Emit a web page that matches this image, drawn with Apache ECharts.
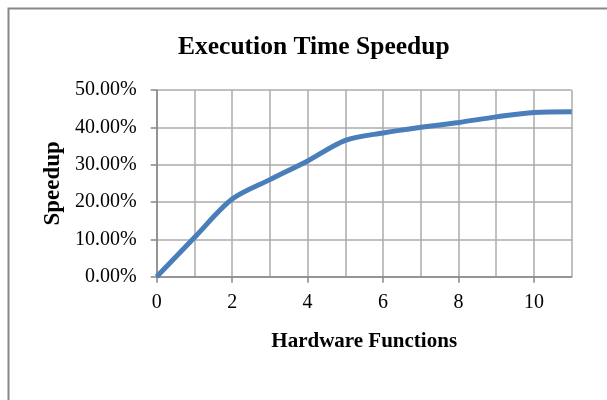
<!DOCTYPE html>
<html>
<head>
<meta charset="utf-8">
<script src="https://cdn.jsdelivr.net/npm/echarts@6/dist/echarts.min.js"></script>
<style>html,body{margin:0;padding:0;background:#fff}#c{width:607px;height:400px}</style>
</head>
<body>
<div id="c"></div>
<script>
const titleText = 'Execution Time Speedup';
const xName = 'Hardware Functions';
const yName = 'Speedup';
const xValues = [0, 1, 2, 3, 4, 5, 6, 7, 8, 9, 10, 11];
const speedup = [0, 0.105, 0.208, 0.26, 0.31, 0.365, 0.385, 0.40, 0.413, 0.428, 0.44, 0.442];
const xTickLabels = [0, 2, 4, 6, 8, 10];

const serif = '"Liberation Serif","Times New Roman",serif';
const chart = echarts.init(document.getElementById('c'), null, {renderer: 'canvas'});
chart.setOption({
  animation: false,
  backgroundColor: '#fff',
  graphic: [{
    type: 'rect', left: 6, top: 6, z: -1,
    shape: {x: 0, y: 0, width: 640, height: 440},
    style: {fill: 'none', stroke: '#888888', lineWidth: 2}
  }],
  title: {
    text: titleText, left: 173, top: 29,
    textStyle: {fontFamily: serif, fontSize: 25.5, fontWeight: 'bold', color: '#000'}
  },
  grid: {left: 156.7, top: 90, width: 415, height: 186.7, containLabel: false},
  xAxis: [{
    type: 'value', min: 0, max: 11, interval: 1,
    name: xName, nameLocation: 'middle', nameGap: 54,
    nameTextStyle: {fontFamily: serif, fontSize: 21, fontWeight: 'bold', color: '#000'},
    axisLine: {show: true, lineStyle: {color: '#868686', width: 1.5}},
    axisTick: {show: true, length: 6, customValues: xTickLabels, lineStyle: {color: '#868686', width: 1.5}},
    axisLabel: {customValues: xTickLabels, margin: 16, fontFamily: serif, fontSize: 20, color: '#000'},
    splitLine: {show: false},
    z: 3
  }, {
    type: 'value', min: 0, max: 11, interval: 1, position: 'bottom',
    axisLine: {show: false}, axisTick: {show: false}, axisLabel: {show: false},
    splitLine: {show: true, lineStyle: {color: '#ababab', width: 1.5}}
  }],
  yAxis: {
    type: 'value', min: 0, max: 0.5, interval: 0.1,
    name: yName, nameLocation: 'middle', nameGap: 92, nameRotate: 90,
    nameTextStyle: {fontFamily: serif, fontSize: 23, fontWeight: 'bold', color: '#000'},
    axisLine: {show: true, lineStyle: {color: '#868686', width: 1.5}},
    axisTick: {show: true, length: 6, lineStyle: {color: '#868686', width: 1.5}},
    axisLabel: {margin: 20, fontFamily: serif, fontSize: 20, color: '#000',
      formatter: v => (v * 100).toFixed(2) + '%'},
    splitLine: {show: true, lineStyle: {color: '#ababab', width: 1.5}}
  },
  series: [{
    type: 'line', xAxisIndex: 0, data: xValues.map((x, i) => [x, speedup[i]]),
    smooth: 0.3, showSymbol: false, symbol: 'none',
    lineStyle: {color: '#4a7ebb', width: 5}
  }]
});
</script>
</body>
</html>
